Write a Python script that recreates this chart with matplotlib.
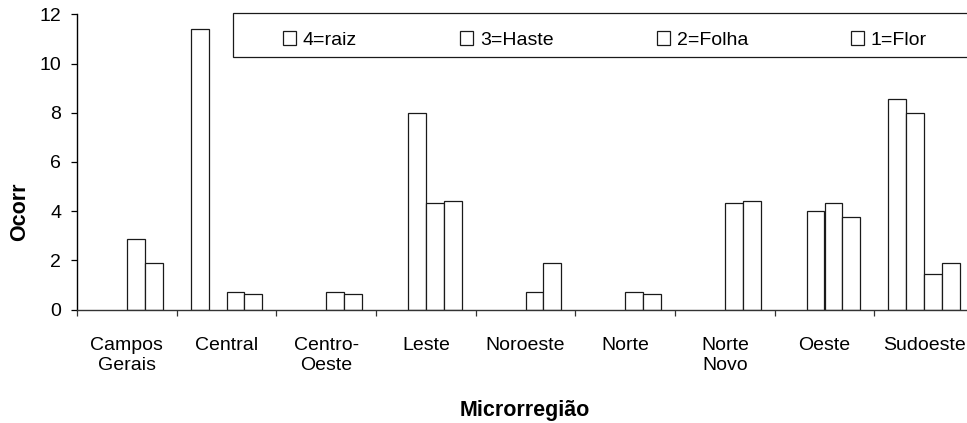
import matplotlib
matplotlib.use("Agg")
import matplotlib.pyplot as plt
import numpy as np
from matplotlib.patches import Rectangle, Patch

plt.rcParams['font.family'] = ['Liberation Sans', 'DejaVu Sans']

categories = ["Campos\nGerais", "Central", "Centro-\nOeste", "Leste", "Noroeste",
              "Norte", "Norte\nNovo", "Oeste", "Sudoeste"]
series_labels = ["4=raiz", "3=Haste", "2=Folha", "1=Flor"]
raiz  = [0.0, 11.4, 0.0, 0.0, 0.0, 0.0, 0.0, 0.0, 8.55]
haste = [0.0, 0.0, 0.0, 8.0, 0.0, 0.0, 0.0, 4.0, 8.0]
folha = [2.88, 0.72, 0.72, 4.32, 0.72, 0.72, 4.32, 4.32, 1.45]
flor  = [1.9, 0.64, 0.64, 4.4, 1.9, 0.64, 4.4, 3.78, 1.9]
series = [raiz, haste, folha, flor]
yticks = [0, 2, 4, 6, 8, 10, 12]

W, H = 967, 423
fig = plt.figure(figsize=(W / 100, H / 100), dpi=100)
ax_l, ax_r, ax_t, ax_b = 77, 974, 14.3, 309.5
ax = fig.add_axes([ax_l / W, 1 - ax_b / H, (ax_r - ax_l) / W, (ax_b - ax_t) / H])

x = np.arange(len(categories))
bw = 0.18
handles = []
for i, (vals, lab) in enumerate(zip(series, series_labels)):
    v = np.asarray(vals, dtype=float)
    keep = v > 0
    ax.bar((x + (i - 1.5) * bw)[keep], v[keep], width=bw, facecolor='white',
           edgecolor='#1a1a1a', linewidth=0.9, label=lab, zorder=3)
    handles.append(Patch(facecolor='white', edgecolor='#1a1a1a', linewidth=0.9, label=lab))

ax.set_xlim(-0.5, len(categories) - 0.5)
ax.set_ylim(0, 12)
ax.set_yticks(yticks)
ax.set_yticklabels([str(v) for v in yticks])
ax.set_xticks(np.arange(len(categories) + 1) - 0.5)
ax.set_xticklabels([])
ax.set_xticks(x, minor=True)
ax.set_xticklabels(categories, minor=True)
ax.tick_params(axis='x', which='major', direction='out', length=4, width=0.9, color='#333333')
ax.tick_params(axis='x', which='minor', length=0, pad=20, labelsize=14)
ax.tick_params(axis='y', direction='out', length=4.5, width=0.9, pad=7, labelsize=14)
for s in ['top', 'right']:
    ax.spines[s].set_visible(False)
ax.spines['left'].set_linewidth(1.0)
ax.spines['bottom'].set_linewidth(1.0)
ax.spines['bottom'].set_color('#333333')
ax.spines['bottom'].set_zorder(4)

fig.text(19.5 / W, 1 - 212 / H, "Ocorr", rotation=90, ha='center', va='center',
         fontsize=15.5, fontweight='bold')
fig.text(525 / W, 1 - 416.3 / H, "Microrregião", ha='center', va='baseline',
         fontsize=15.5, fontweight='bold')

# legend frame
fig.patches.append(Rectangle((232.7 / W, 1 - 57 / H), (1000 - 232.7) / W, 43.7 / H,
                             transform=fig.transFigure, facecolor='white',
                             edgecolor='#1a1a1a', linewidth=0.9, zorder=5))
leg = fig.legend(handles=handles, ncol=4, mode='expand', loc='center',
                 bbox_to_anchor=(283 / W, 1 - 62 / H, (927 - 283) / W, 43.7 / H),
                 frameon=False, fontsize=14, handlelength=0.67, handleheight=0.67,
                 handletextpad=0.35, borderpad=0, borderaxespad=0)
leg.set_zorder(6)

fig.savefig("out.png", dpi=100)
